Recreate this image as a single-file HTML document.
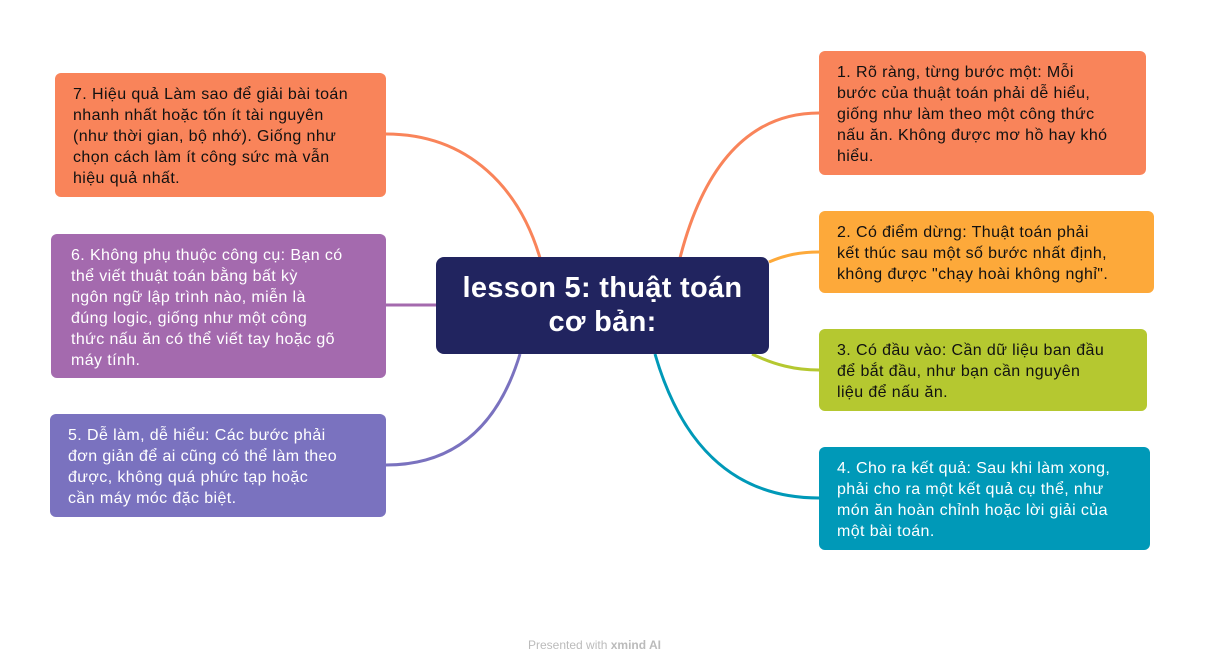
<!DOCTYPE html>
<html><head><meta charset="utf-8"><style>
body{margin:0;width:1205px;height:671px;background:#fff;position:relative;overflow:hidden;font-family:"Liberation Sans","DejaVu Sans",sans-serif}
.b{position:absolute;border-radius:6px;box-sizing:border-box;padding:11px 0 0 18px;font-size:16px;letter-spacing:0.4px;line-height:21px;color:#111;white-space:nowrap}
.w{color:#fff}
svg{position:absolute;left:0;top:0}
</style></head><body>
<svg width="1205" height="671" fill="none" stroke-width="3">
<path d="M540 258 C520 190 470 134 386 134" stroke="#F9845A"/>
<path d="M436 305 L386 305" stroke="#A46AAE"/>
<path d="M520 354 C500 420 460 465 386 465" stroke="#7A72BF"/>
<path d="M680 258 C700 180 740 113 819 113" stroke="#F9845A"/>
<path d="M769 262 C785 255 800 252 819 252" stroke="#FDA93A"/>
<path d="M752 354 C775 365 795 370 819 370" stroke="#B5C830"/>
<path d="M655 354 C680 440 730 498 819 498" stroke="#0099B8"/>
</svg>
<div class="b" style="left:436px;top:257px;width:333px;height:97px;background:#21245F;color:#fff;font-size:29px;letter-spacing:0.3px;line-height:34px;text-align:center;padding:14px 0 0;border-radius:8px;font-weight:bold">lesson 5: thuật toán<br>cơ bản:</div>
<div class="b" style="left:55px;top:73px;width:331px;height:124px;background:#F9845A">7. Hiệu quả Làm sao để giải bài toán<br>nhanh nhất hoặc tốn ít tài nguyên<br>(như thời gian, bộ nhớ). Giống như<br>chọn cách làm ít công sức mà vẫn<br>hiệu quả nhất.</div>
<div class="b w" style="left:51px;top:234px;width:335px;height:144px;background:#A46AAE;padding-left:20px">6. Không phụ thuộc công cụ: Bạn có<br>thể viết thuật toán bằng bất kỳ<br>ngôn ngữ lập trình nào, miễn là<br>đúng logic, giống như một công<br>thức nấu ăn có thể viết tay hoặc gõ<br>máy tính.</div>
<div class="b w" style="left:50px;top:414px;width:336px;height:103px;background:#7A72BF">5. Dễ làm, dễ hiểu: Các bước phải<br>đơn giản để ai cũng có thể làm theo<br>được, không quá phức tạp hoặc<br>cần máy móc đặc biệt.</div>
<div class="b" style="left:819px;top:51px;width:327px;height:124px;background:#F9845A">1. Rõ ràng, từng bước một: Mỗi<br>bước của thuật toán phải dễ hiểu,<br>giống như làm theo một công thức<br>nấu ăn. Không được mơ hồ hay khó<br>hiểu.</div>
<div class="b" style="left:819px;top:211px;width:335px;height:82px;background:#FDA93A">2. Có điểm dừng: Thuật toán phải<br>kết thúc sau một số bước nhất định,<br>không được "chạy hoài không nghỉ".</div>
<div class="b" style="left:819px;top:329px;width:328px;height:82px;background:#B5C830">3. Có đầu vào: Cần dữ liệu ban đầu<br>để bắt đầu, như bạn cần nguyên<br>liệu để nấu ăn.</div>
<div class="b w" style="left:819px;top:447px;width:331px;height:103px;background:#0099B8">4. Cho ra kết quả: Sau khi làm xong,<br>phải cho ra một kết quả cụ thể, như<br>món ăn hoàn chỉnh hoặc lời giải của<br>một bài toán.</div>
<div style="position:absolute;left:528px;top:638px;font-size:12px;color:#bbb">Presented with <b>xmind AI</b></div>
</body></html>
